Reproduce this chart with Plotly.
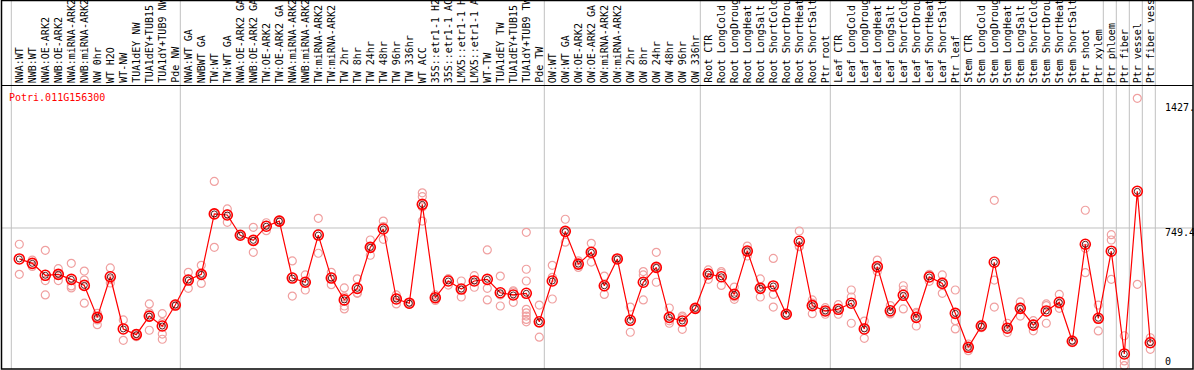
import plotly.graph_objects as go

# ---------------- data ----------------
categories = [
    "NWA:WT", "NWB:WT", "NWA:OE-ARK2", "NWB:OE-ARK2", "NWA:miRNA-ARK2", "NWB:miRNA-ARK2",
    "NW 0hr", "WT H2O", "WT-NW", "TUA1dEY NW", "TUA1dEY+TUB15", "TUA1dY+TUB9 NW", "Pde NW",
    "NWA:WT GA", "NWBWT GA", "TW:WT", "TW:WT GA", "NWA:OE-ARK2 GA", "NWB:OE-ARK2 GA",
    "TW:OE-ARK2", "TW:OE-ARK2 GA", "NWA:miRNA-ARK2", "NWB:miRNA-ARK2", "TW:miRNA-ARK2",
    "TW:miRNA-ARK2", "TW 2hr", "TW 8hr", "TW 24hr", "TW 48hr", "TW 96hr", "TW 336hr",
    "WT ACC", "35S::etr1-1 H2", "35S::etr1-1 AC", "LMX5::etr1-1 H", "LMX5::etr1-1 A",
    "WT-TW", "TUA1dEY TW", "TUA1dEY+TUB15", "TUA1dY+TUB9 TW", "Pde TW",
    "OW:WT", "OW:WT GA", "OW:OE-ARK2", "OW:OE-ARK2 GA", "OW:miRNA-ARK2", "OW:miRNA-ARK2",
    "OW 2hr", "OW 8hr", "OW 24hr", "OW 48hr", "OW 96hr", "OW 336hr",
    "Root CTR", "Root LongCold", "Root LongDroug", "Root LongHeat", "Root LongSalt",
    "Root ShortCold", "Root ShortDrou", "Root ShortHeat", "Root ShortSalt", "Ptr root",
    "Leaf CTR", "Leaf LongCold", "Leaf LongDroug", "Leaf LongHeat", "Leaf LongSalt",
    "Leaf ShortCold", "Leaf ShortDrou", "Leaf ShortHeat", "Leaf ShortSalt", "Ptr leaf",
    "Stem CTR", "Stem LongCold", "Stem LongDroug", "Stem LongHeat", "Stem LongSalt",
    "Stem ShortCold", "Stem ShortDrou", "Stem ShortHeat", "Stem ShortSalt",
    "Ptr shoot", "Ptr xylem", "Ptr phloem", "Ptr fiber", "Ptr vessel", "Ptr fiber vess",
]

means = [
    581, 557, 492, 497, 470, 437, 263, 484, 200, 169, 270, 216, 330,
    466, 497, 826, 820, 710, 682, 759, 787, 477, 454, 711, 477, 358, 421, 644, 744,
    363, 340, 878, 370, 461, 417, 461, 470, 397, 385, 394, 239,
    461, 731, 553, 617, 435, 581, 247, 454, 535, 263, 243, 312,
    499, 484, 388, 624, 421, 434, 280, 677, 327, 298,
    307, 340, 200, 539, 299, 383, 263, 483, 448, 285,
    100, 216, 563, 204, 312, 221, 298, 345, 133, 661, 258, 623, 64, 949, 125,
]

replicates = [
    [661, 497], [575, 540], [628, 463, 385], [528, 463, 500], [557, 434, 423],
    [515, 466, 340], [285, 263, 249, 223], [532, 470, 450], [249, 138],
    [158, 175, 174], [336, 288, 193, 263], [283, 234, 172, 144], [335, 325, 330],
    [508, 421, 470], [546, 448, 497], [1003, 644, 830], [853, 780, 827],
    [710, 712, 708], [753, 617, 676], [778, 735, 764], [793, 781, 787],
    [570, 379, 482], [494, 412, 456], [802, 612, 719], [508, 441, 482],
    [423, 325, 309, 375], [473, 394, 396], [684, 601, 647], [787, 688, 757],
    [385, 336, 368], [345, 335, 340], [941, 920, 787, 864], [385, 370, 355],
    [472, 439, 472], [461, 374, 416], [490, 427, 466], [630, 421, 358],
    [488, 385, 325], [408, 345, 402],
    [726, 525, 461, 307, 288, 270, 252, 239], [330, 155, 232],
    [546, 481, 363], [797, 672, 724], [571, 535, 553], [666, 564, 621],
    [488, 388, 429], [581, 578, 584], [319, 182, 240], [512, 494, 358],
    [617, 454, 534], [314, 231, 244], [270, 198, 261], [315, 309, 312],
    [521, 470, 506], [512, 437, 503], [428, 361, 375], [651, 597, 624],
    [472, 374, 417], [584, 388, 319], [285, 275, 280], [733, 648, 650],
    [358, 283, 340], [316, 280, 298],
    [332, 280, 309], [412, 374, 231], [243, 149, 208], [575, 512, 530],
    [327, 288, 282], [435, 412, 309], [290, 216, 283], [497, 459, 493],
    [494, 394, 456], [412, 245, 200],
    [82, 118, 100], [225, 207, 216], [900, 466, 319], [231, 180, 201],
    [347, 270, 319], [245, 190, 228], [336, 231, 327], [388, 312, 335],
    [140, 125, 134], [846, 639, 506], [330, 189, 255], [713, 684, 470],
    [163, 26, 0], [1455, 443], [152, 89, 134],
]

group_breaks = [0, 13, 41, 53, 63, 73, 84, 85, 86, 87, 88]
title_text = "Potri.011G156300"
ytick_values = [1427, 749.4, 0]
ytick_labels = ["1427.", "749.4", "0"]

# ---------------- geometry ----------------
W, H = 1194, 370
X0PX, XSTEP = 19.3, 13.0          # pixel of first category, pixels per category
Y0PX, YSCALE = 365.7, 5.442       # pixel of value 0, value units per pixel

xr = [(0 - X0PX) / XSTEP, (W - X0PX) / XSTEP]
yr = [(Y0PX - H) * YSCALE, Y0PX * YSCALE]


def px(x):
    return x / W


def py(y):
    return 1 - y / H


FONT = "DejaVu Sans Mono"
xs = list(range(len(categories)))

rep_x, rep_y = [], []
for i, reps in enumerate(replicates):
    for v in reps:
        rep_x.append(i)
        rep_y.append(v)

fig = go.Figure()
fig.add_trace(go.Scatter(
    x=rep_x, y=rep_y, mode="markers",
    marker=dict(symbol="circle-open", size=8, color="#f0a0a0", line=dict(width=1.2)),
    hoverinfo="skip",
))
fig.add_trace(go.Scatter(
    x=xs, y=means, mode="lines",
    line=dict(color="#ff0000", width=1.2),
    hoverinfo="skip",
))
fig.add_trace(go.Scatter(
    x=xs, y=means, mode="markers",
    marker=dict(symbol="circle-open", size=10, color="#ff0000", line=dict(width=1.6)),
    hoverinfo="skip",
))
fig.add_trace(go.Scatter(
    x=xs, y=means, mode="markers",
    marker=dict(symbol="circle-open", size=6, color="rgba(60,0,0,0.85)", line=dict(width=1)),
    hoverinfo="skip",
))

shapes = []
# group dividers (through header too)
for k in group_breaks:
    shapes.append(dict(type="line", xref="x", yref="paper",
                       x0=k - 0.615, x1=k - 0.615, y0=py(369), y1=1,
                       line=dict(color="#c0c0c0", width=1), layer="below"))
# gridline at 749.4
shapes.append(dict(type="line", xref="paper", yref="y",
                   x0=px(1.5), x1=1, y0=ytick_values[1], y1=ytick_values[1],
                   line=dict(color="#c0c0c0", width=1), layer="below"))
# header separator
shapes.append(dict(type="line", xref="paper", yref="paper",
                   x0=px(1.5), x1=px(1193), y0=py(85.5), y1=py(85.5),
                   line=dict(color="black", width=1)))
# frame
shapes.append(dict(type="rect", xref="paper", yref="paper",
                   x0=px(1.5), x1=px(1193), y0=py(369), y1=py(0.5),
                   line=dict(color="black", width=1.5), fillcolor="rgba(0,0,0,0)"))

annotations = []
for i, name in enumerate(categories):
    annotations.append(dict(
        x=i, xref="x", y=py(84), yref="paper", text=name, textangle=-90,
        xanchor="center", yanchor="bottom", showarrow=False, borderpad=0,
        font=dict(family=FONT, size=10, color="black"),
    ))
annotations.append(dict(
    x=px(8), y=py(97.5), xref="paper", yref="paper", text=title_text,
    xanchor="left", yanchor="middle", showarrow=False, borderpad=0,
    font=dict(family=FONT, size=10, color="#ff0000"),
))
label_centers = [107.5, 232, 361.5]
for lab, yc in zip(ytick_labels, label_centers):
    annotations.append(dict(
        x=px(1163.5), y=py(yc), xref="paper", yref="paper", text=lab,
        xanchor="left", yanchor="middle", showarrow=False, borderpad=0,
        font=dict(family=FONT, size=10, color="black"),
    ))

fig.update_layout(
    width=W, height=H, margin=dict(l=0, r=0, t=0, b=0, pad=0),
    paper_bgcolor="white", plot_bgcolor="white", showlegend=False,
    xaxis=dict(range=xr, visible=False, fixedrange=True),
    yaxis=dict(range=yr, visible=False, fixedrange=True),
    shapes=shapes, annotations=annotations,
)

fig.write_html(
    "out.html",
    config={"displayModeBar": False},
    post_script="document.body.style.margin='0';document.body.style.overflow='hidden';",
)
